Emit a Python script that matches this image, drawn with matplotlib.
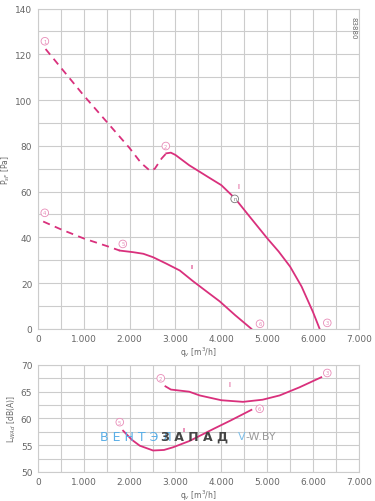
import matplotlib.pyplot as plt
import numpy as np

# top chart: static pressure vs flow
p1_dash_q = [168, 1000, 1500, 2000, 2250, 2450, 2550, 2700, 2800]
p1_dash_p = [122.3, 102, 90.5, 79, 72.5, 69, 70, 74.5, 76.7]
p1_q = [2800, 2900, 3000, 3300, 3700, 4000, 4300, 4600, 5000, 5250, 5500, 5750, 6000, 6144]
p1_p = [76.7, 77, 76, 71.5, 66.5, 62.8, 57, 49.5, 39.6, 33.8, 27.2, 18.5, 7.3, 0]

p2_dash_q = [116, 500, 1000, 1500, 1786]
p2_dash_p = [46.9, 43.5, 39.5, 36.2, 34.2]
p2_q = [1786, 2077, 2300, 2512, 2800, 3094, 3384, 3700, 3965, 4300, 4656]
p2_p = [34.2, 33.5, 32.8, 31.3, 28.5, 25.5, 20.8, 16, 12, 6, 0]

# bottom chart: sound power vs flow
l1_q = [2782, 2900, 3300, 3529, 4000, 4473, 4900, 5272, 5700, 6180]
l1_l = [66.0, 65.4, 65.0, 64.3, 63.4, 63.1, 63.5, 64.3, 65.8, 67.7]
l2_q = [1859, 2050, 2222, 2512, 2750, 2948, 3312, 3820, 4200, 4656]
l2_l = [57.7, 56.0, 54.9, 54.0, 54.1, 54.6, 55.8, 58.0, 59.6, 61.6]

top_marks = [("1", 153, 125.7), ("2", 2790, 79.9), ("3", 6311, 2.6),
             ("4", 150, 50.7), ("5", 1852, 37.1), ("6", 4844, 2.2)]
bot_marks = [("2", 2680, 67.5), ("3", 6311, 68.5), ("5", 1786, 59.3), ("6", 4837, 61.8)]

x_ticks = [0, 1000, 2000, 3000, 4000, 5000, 6000, 7000]
x_labels = ["0", "1.000", "2.000", "3.000", "4.000", "5.000", "6.000", "7.000"]

pink = "#d9307c"
mark_col = "#e88cb8"
grid_col = "#cccccc"
txt_col = "#666666"

fig = plt.figure(figsize=(3.75, 5.02), dpi=100)
ax1 = fig.add_axes([0.101, 0.343, 0.856, 0.638])
ax2 = fig.add_axes([0.101, 0.058, 0.856, 0.213])


def style(ax, ymin, ymax, ymaj, ymin_step):
    ax.set_xlim(0, 7000)
    ax.set_ylim(ymin, ymax)
    ax.set_xticks(x_ticks)
    ax.set_xticklabels(x_labels)
    ax.set_xticks(np.arange(500, 7000, 1000), minor=True)
    ax.set_yticks(np.arange(ymin, ymax + 0.1, ymaj))
    ax.set_yticks(np.arange(ymin, ymax + 0.1, ymin_step), minor=True)
    ax.grid(True, which="both", color=grid_col, lw=0.8)
    ax.tick_params(which="both", length=0, labelsize=6.5, colors=txt_col, pad=4)
    for s in ax.spines.values():
        s.set_color(grid_col)
        s.set_linewidth(0.8)
    ax.set_axisbelow(True)


def circ(ax, t, x, y, col=mark_col):
    ax.text(x, y, t, fontsize=3.8, color=col, ha="center", va="center",
            bbox=dict(boxstyle="circle,pad=0.25", fc="white", ec=col, lw=0.6))


style(ax1, 0, 140, 20, 10)
ax1.plot(p1_dash_q, p1_dash_p, color=pink, lw=1.3, ls=(0, (4, 3)))
ax1.plot(p1_q, p1_p, color=pink, lw=1.3)
ax1.plot(p2_dash_q, p2_dash_p, color=pink, lw=1.3, ls=(0, (4, 3)))
ax1.plot(p2_q, p2_p, color=pink, lw=1.3)
for t, x, y in top_marks:
    circ(ax1, t, x, y)
circ(ax1, "n", 4292, 56.8, col="#777777")
ax1.text(4364, 62.3, "I", fontsize=5, color=pink, ha="center", va="center")
ax1.text(3363, 27.2, "II", fontsize=4, color=pink, ha="center", va="center")
ax1.text(6880, 132, "83880", fontsize=5, color=txt_col, rotation=270, ha="center", va="center")
ax1.set_ylabel("P$_{sF}$ [Pa]", fontsize=5.5, color=txt_col, labelpad=2)
ax1.set_xlabel("q$_v$ [m$^3$/h]", fontsize=5.5, color=txt_col, labelpad=1)

style(ax2, 50, 70, 5, 2.5)
ax2.plot(l1_q, l1_l, color=pink, lw=1.3)
ax2.plot(l2_q, l2_l, color=pink, lw=1.3)
for t, x, y in bot_marks:
    circ(ax2, t, x, y)
ax2.text(4183, 66.4, "I", fontsize=5, color=pink, ha="center", va="center")
ax2.text(3188, 57.9, "II", fontsize=4, color=pink, ha="center", va="center")
ax2.set_ylabel("L$_{WAd}$ [dB(A)]", fontsize=5.5, color=txt_col, labelpad=2)
ax2.set_xlabel("q$_v$ [m$^3$/h]", fontsize=5.5, color=txt_col, labelpad=1)

# watermark
fig.text(0.268, 0.129, "В Е Н Т Э Л", fontsize=9, color="#5aaee6", ha="left", va="center")
fig.text(0.43, 0.129, "З А П А Д", fontsize=9, color="#444444", ha="left", va="center", weight="bold")
fig.text(0.634, 0.129, "V", fontsize=8, color="#7fc0ea", ha="left", va="center")
fig.text(0.655, 0.129, "-W.BY", fontsize=8, color="#999999", ha="left", va="center")

fig.savefig("out.png", dpi=100)
